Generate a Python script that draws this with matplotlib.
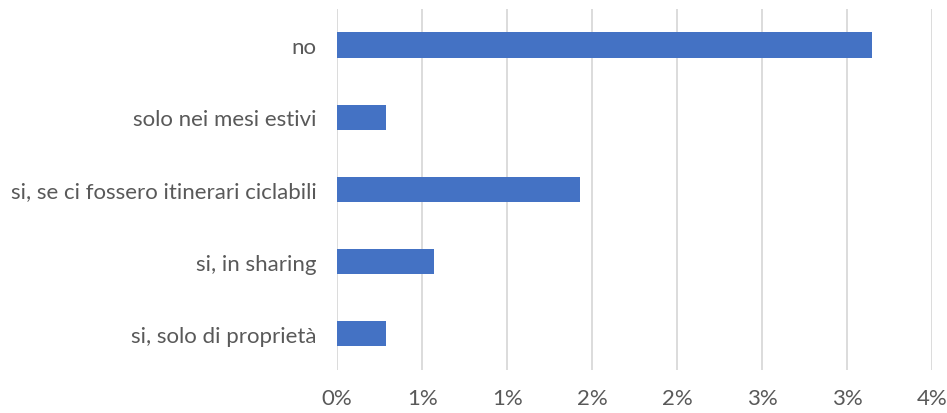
import matplotlib
matplotlib.use("Agg")
import matplotlib.pyplot as plt
from matplotlib.ticker import FuncFormatter

categories = ["si, solo di proprietà", "si, in sharing", "si, se ci fossero itinerari ciclabili",
              "solo nei mesi estivi", "no"]
values = [0.286, 0.571, 1.429, 0.286, 3.143]  # percent
tick_values = [0, 0.5, 1.0, 1.5, 2.0, 2.5, 3.0, 3.5]

plt.rcParams['font.family'] = ['Lato', 'DejaVu Sans']

fig = plt.figure(figsize=(9.47, 4.14), dpi=100)
ax = fig.add_axes([0.356, 0.104, 0.6284, 0.872])
ax.barh(range(len(categories)), values, height=0.35, color="#4472C4", zorder=3)
ax.set_xlim(0, 3.5)
ax.set_ylim(-0.5, len(categories) - 0.5)
ax.set_xticks(tick_values)
ax.xaxis.set_major_formatter(FuncFormatter(lambda v, p: f"{int(v + 0.5 + 1e-9)}%"))
ax.set_yticks(range(len(categories)))
ax.set_yticklabels(categories)
ax.grid(axis="x", color="#D9D9D9", linewidth=1.3, zorder=0)
for s in ax.spines.values():
    s.set_visible(False)
ax.tick_params(axis="both", length=0, colors="#595959", labelsize=16)
ax.tick_params(axis="x", pad=13)
ax.tick_params(axis="y", pad=15)
fig.savefig("out.png", dpi=100)
